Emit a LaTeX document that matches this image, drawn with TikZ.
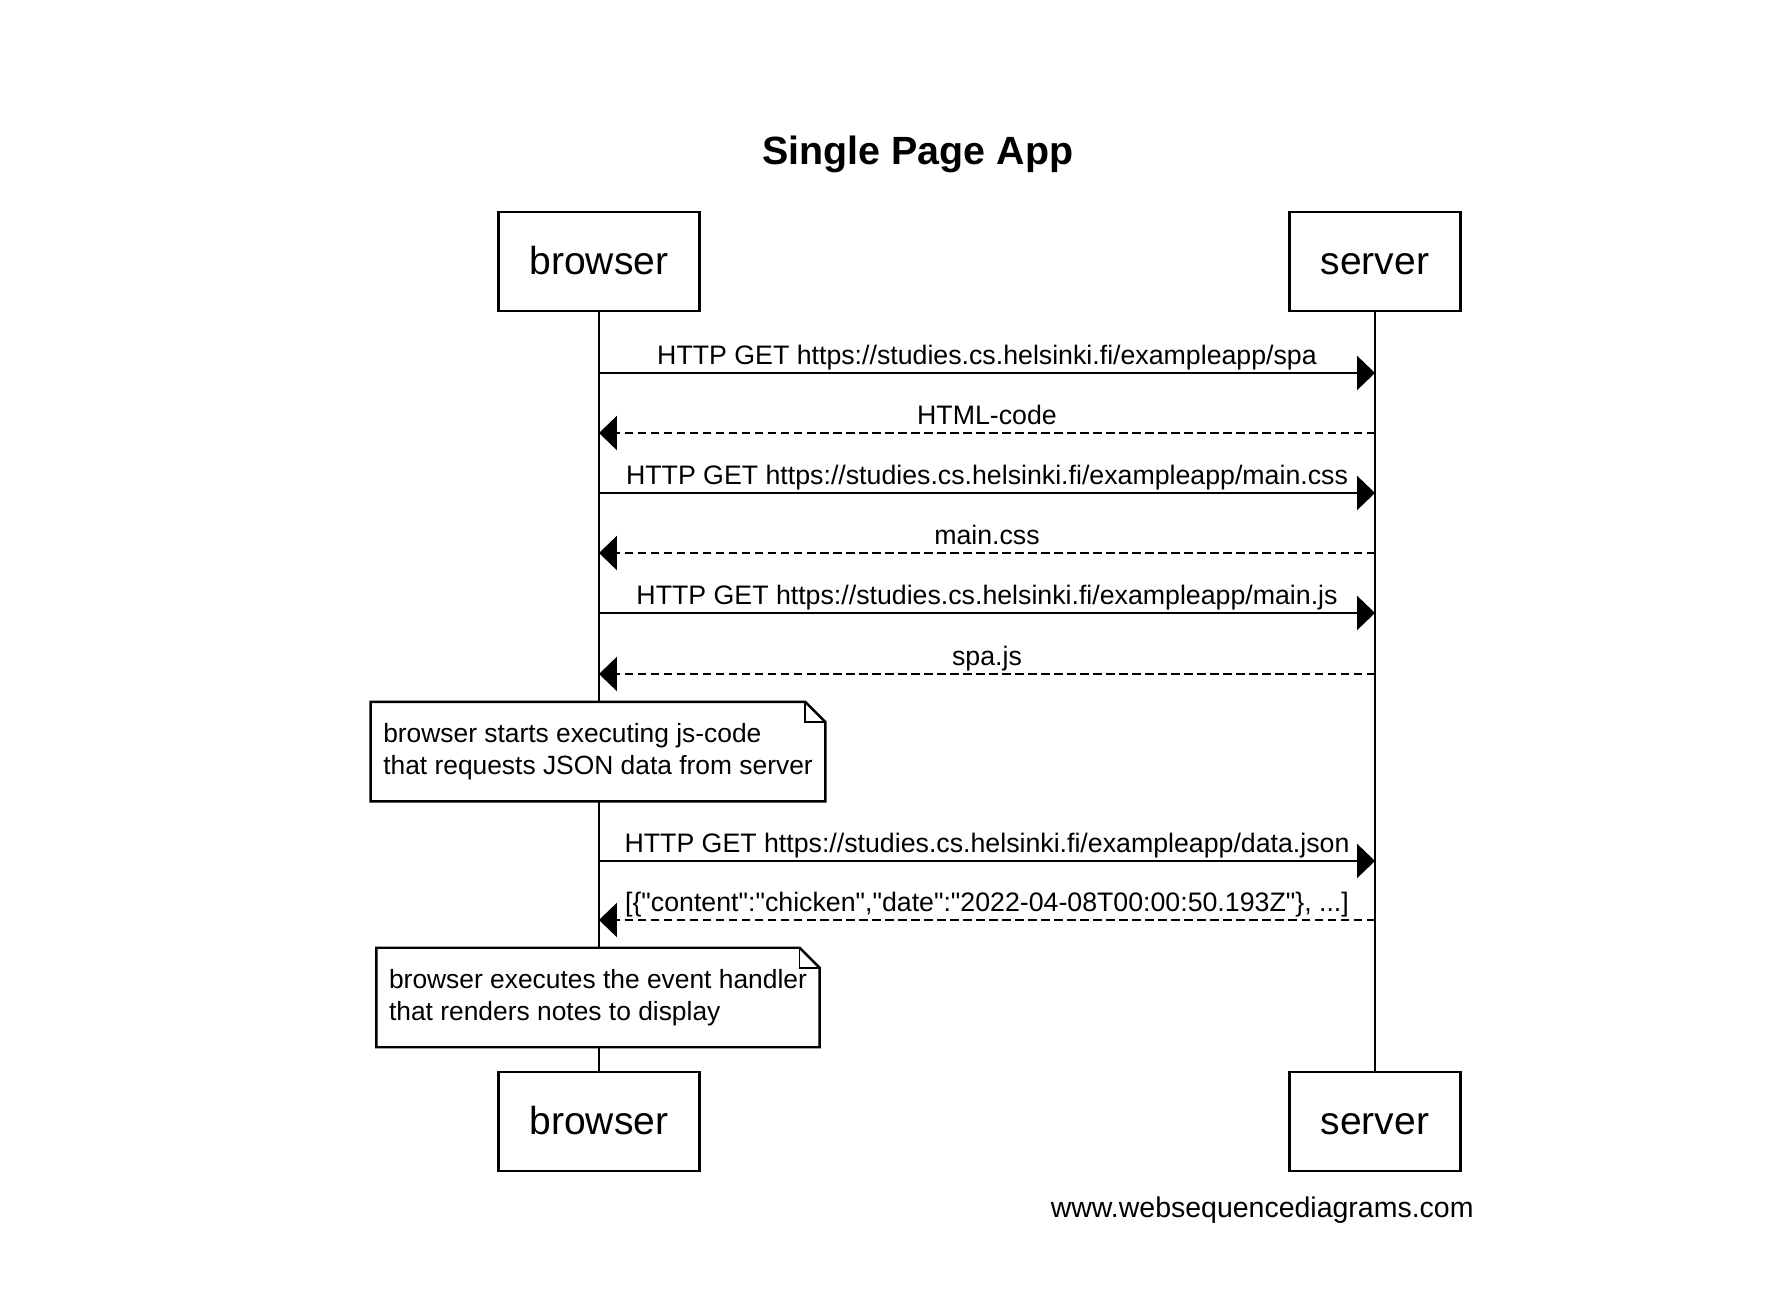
\documentclass[tikz,border=0pt]{standalone}
\usepackage{fontspec}
\setmainfont{Liberation Sans}
\newfontfamily\jsonfont{Liberation Sans}   % no TeX mapping, keeps straight quotes
\usetikzlibrary{arrows.meta}

\begin{document}
\begin{tikzpicture}[
        x=0.01cm, y=-0.01cm,   % One unit per pixel, y downwards
        >={Triangle[length=5.1pt,width=9.7pt]},   % Arrow style
        actor/.style={draw, rectangle, line width=0.7pt, minimum height=28.2pt, inner xsep=8.9pt, text height=0.73em, text depth=0pt, font=\fontsize{11.1}{13}\selectfont},
        note/.style={rectangle, fill=white, minimum height=27.9pt, inner xsep=3.4pt, align=left, font=\fontsize{7.5}{9}\selectfont},
        fold/.style={draw, line width=0.7pt},
        life/.style={line width=0.6pt},
        call/.style={->, line width=0.6pt},
        reply/.style={->, line width=0.6pt, dash pattern=on 2.4pt off 1.3pt},
        lbl/.style={above, inner sep=0pt, text height=0.73em, text depth=0.21em, font=\fontsize{7.6}{9}\selectfont}
    ]
    \useasboundingbox (0,0) rectangle (1768,1300);

    % Title
    \node[anchor=base, font=\bfseries\fontsize{11.2}{13}\selectfont] (title) at (918,165) {Single Page App};

    % Participants, top and bottom
    \node[actor] (bt) at (599,261.5) {browser};
    \node[actor] (st) at (1375,261.5) {server};
    \node[actor] (bb) at (599,1121.5) {browser};
    \node[actor] (sb) at (1375,1121.5) {server};

    % Lifelines
    \draw[life] (bt) -- (bb);
    \draw[life] (st) -- (sb);

    % Points on the lifelines for the messages
    \coordinate (b1) at (599,373);  \coordinate (s1) at (1375,373);
    \coordinate (b2) at (599,433);  \coordinate (s2) at (1375,433);
    \coordinate (b3) at (599,493);  \coordinate (s3) at (1375,493);
    \coordinate (b4) at (599,553);  \coordinate (s4) at (1375,553);
    \coordinate (b5) at (599,613);  \coordinate (s5) at (1375,613);
    \coordinate (b6) at (599,674);  \coordinate (s6) at (1375,674);
    \coordinate (b7) at (599,861);  \coordinate (s7) at (1375,861);
    \coordinate (b8) at (599,920);  \coordinate (s8) at (1375,920);

    % Messages
    \draw[call] (b1) -- node[lbl] {HTTP GET https://studies.cs.helsinki.fi/exampleapp/spa} (s1);
    \draw[reply] (s2) -- node[lbl] {HTML-code} (b2);
    \draw[call] (b3) -- node[lbl] {HTTP GET https://studies.cs.helsinki.fi/exampleapp/main.css} (s3);
    \draw[reply] (s4) -- node[lbl] {main.css} (b4);
    \draw[call] (b5) -- node[lbl] {HTTP GET https://studies.cs.helsinki.fi/exampleapp/main.js} (s5);
    \draw[reply] (s6) -- node[lbl] {spa.js} (b6);
    \draw[call] (b7) -- node[lbl] {HTTP GET https://studies.cs.helsinki.fi/exampleapp/data.json} (s7);
    \draw[reply] (s8) -- node[lbl] {\jsonfont [\{"content":"chicken","date":"2022-04-08T00:00:50.193Z"\}, ...]} (b8);

    % Notes over the browser
    \node[note] (n1) at (598,751.7) {browser starts executing js-code\\that requests JSON data from server};
    \draw[fold] (n1.north west) -- ([xshift=-5.7pt]n1.north east) -- ([yshift=-5.7pt]n1.north east) -- (n1.south east) -- (n1.south west) -- cycle;
    \draw[line width=0.5pt] ([xshift=-5.7pt]n1.north east) |- ([yshift=-5.7pt]n1.north east);

    \node[note] (n2) at (598,997.5) {browser executes the event handler\\that renders notes to display};
    \draw[fold] (n2.north west) -- ([xshift=-5.7pt]n2.north east) -- ([yshift=-5.7pt]n2.north east) -- (n2.south east) -- (n2.south west) -- cycle;
    \draw[line width=0.5pt] ([xshift=-5.7pt]n2.north east) |- ([yshift=-5.7pt]n2.north east);

    % Footer
    \node[anchor=base east, font=\fontsize{8.1}{10}\selectfont] (site) at (1486,1218) {www.websequencediagrams.com};

\end{tikzpicture}
\end{document}
